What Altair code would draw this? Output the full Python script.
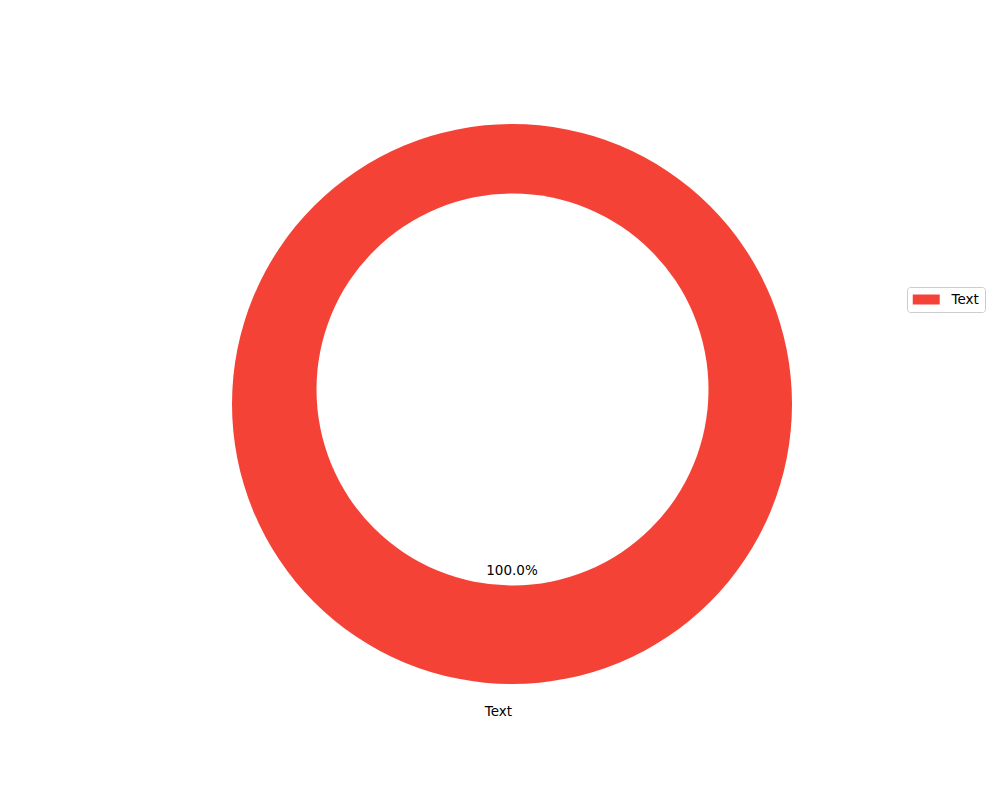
import altair as alt
import pandas as pd

categories = ["Text"]
values = [100.0]
colors = ["#F44336"]

total = sum(values)
df = pd.DataFrame({
    "category": categories,
    "value": values,
    "pct": [f"{v / total * 100:.1f}%" for v in values],
})

base = alt.Chart(df)

color = alt.Color(
    "category:N",
    scale=alt.Scale(domain=categories, range=colors),
    legend=alt.Legend(
        title=None,
        orient="none",
        legendX=899,
        legendY=279,
        symbolType="M-1,-0.74H3V0.74H-1Z",
        symbolSize=182,
        symbolStrokeWidth=0,
        labelFont="DejaVu Sans",
        labelFontSize=13.5,
        labelColor="#000000",
        labelOffset=25,
        padding=5.5,
        strokeColor="#cccccc",
        fillColor="white",
        cornerRadius=3,
    ),
)

outer = base.mark_arc(radius=280, stroke=None).encode(
    theta=alt.Theta("value:Q", stack=True),
    color=color,
    x=alt.value(504),
    y=alt.value(396),
)

hole = base.mark_arc(radius=196, fill="white", stroke=None).encode(
    theta=alt.Theta("value:Q", stack=True),
    x=alt.value(504.5),
    y=alt.value(381.5),
)

pct = base.mark_text(radius=167, font="DejaVu Sans", fontSize=13.5, color="black",
                     align="center", baseline="middle").encode(
    theta=alt.Theta("value:Q", stack=True),
    text="pct:N",
    x=alt.value(504),
    y=alt.value(396),
)

lab = base.mark_text(radius=308, font="DejaVu Sans", fontSize=13.5, color="black",
                     align="right", baseline="middle").encode(
    theta=alt.Theta("value:Q", stack=True),
    text="category:N",
    x=alt.value(504),
    y=alt.value(396),
)

chart = alt.layer(outer, hole, pct, lab).properties(
    width=984, height=784, padding=0, autosize="none"
).configure_view(stroke=None)

chart.save("out.html", embed_options={"renderer": "svg", "actions": False})
